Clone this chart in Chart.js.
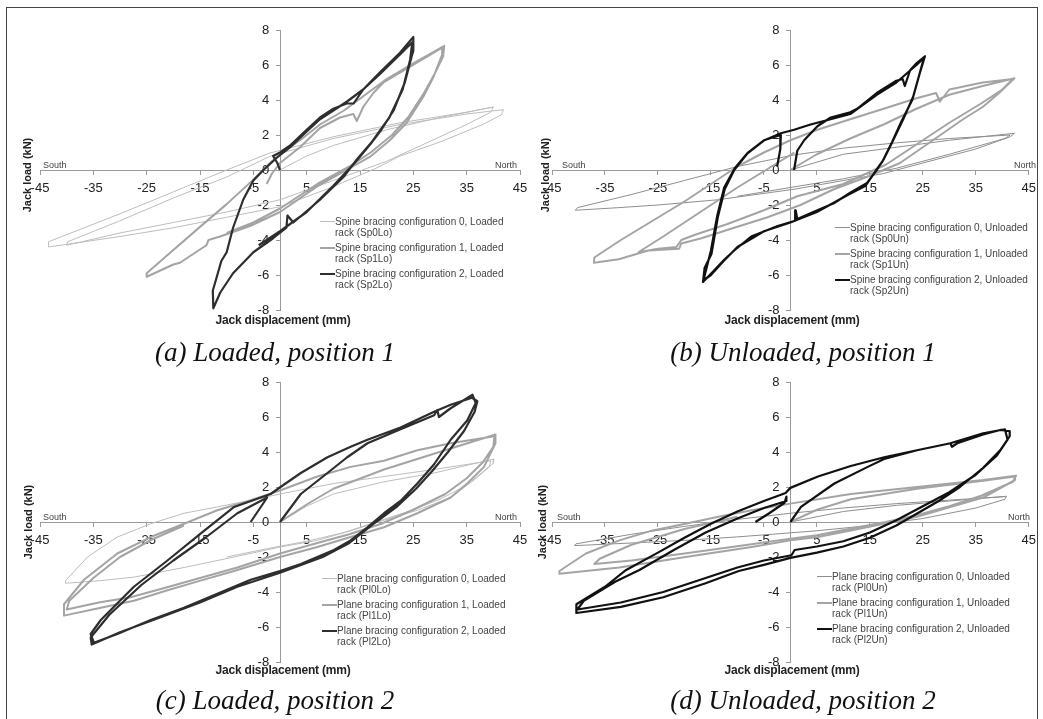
<!DOCTYPE html>
<html>
<head>
<meta charset="utf-8">
<script src="https://cdn.jsdelivr.net/npm/chart.js@4.4.1/dist/chart.umd.min.js"></script>
<style>
  body { margin: 0; background: #fff; width: 1043px; height: 719px; overflow: hidden; position: relative;
         font-family: "Liberation Sans", Arial, sans-serif; }
  #frame { position: absolute; left: 6px; top: 7px; width: 1030px; height: 730px; border: 1px solid #444; }
  canvas { position: absolute; }
  .ytitle { position: absolute; font-weight: bold; font-size: 11px; color: #222; white-space: nowrap;
            transform: translate(-50%, -50%) rotate(-90deg); }
  .xtitle { position: absolute; font-weight: bold; font-size: 12px; color: #222; white-space: nowrap;
            transform: translate(-50%, -50%); letter-spacing: -0.2px; }
  .caption { position: absolute; font-family: "Liberation Serif", "Times New Roman", serif; font-style: italic;
             font-size: 27px; color: #111; white-space: nowrap; transform: translate(-50%, -50%); }
  .dir { position: absolute; font-size: 9px; color: #444; }
  .legend { position: absolute; font-size: 10px; color: #444; line-height: 11px; }
  .legend .row { display: flex; margin-bottom: 4px; }
  .legend .swatch { width: 15px; height: 0; margin-top: 5px; flex: none; }
</style>
</head>
<body>
<div id="frame"></div>

<canvas id="chartA" width="540" height="340" style="left:0;top:0"></canvas>
<canvas id="chartB" width="528" height="340" style="left:515px;top:0"></canvas>
<canvas id="chartC" width="540" height="340" style="left:0;top:352px"></canvas>
<canvas id="chartD" width="528" height="340" style="left:515px;top:352px"></canvas>

<div class="ytitle" style="left:27px;top:175px">Jack load (kN)</div>
<div class="ytitle" style="left:545px;top:175px">Jack load (kN)</div>
<div class="ytitle" style="left:28px;top:522px">Jack load (kN)</div>
<div class="ytitle" style="left:542px;top:522px">Jack load (kN)</div>

<div class="xtitle" style="left:283px;top:320px">Jack displacement (mm)</div>
<div class="xtitle" style="left:792px;top:320px">Jack displacement (mm)</div>
<div class="xtitle" style="left:283px;top:670px">Jack displacement (mm)</div>
<div class="xtitle" style="left:792px;top:670px">Jack displacement (mm)</div>

<div class="caption" style="left:275px;top:352px">(a) Loaded, position 1</div>
<div class="caption" style="left:803px;top:352px">(b) Unloaded, position 1</div>
<div class="caption" style="left:275px;top:700px">(c) Loaded, position 2</div>
<div class="caption" style="left:803px;top:700px">(d) Unloaded, position 2</div>

<div class="dir" style="left:43px;top:160px">South</div>
<div class="dir" style="left:495px;top:160px">North</div>
<div class="dir" style="left:562px;top:160px">South</div>
<div class="dir" style="left:1014px;top:160px">North</div>
<div class="dir" style="left:43px;top:512px">South</div>
<div class="dir" style="left:495px;top:512px">North</div>
<div class="dir" style="left:557px;top:512px">South</div>
<div class="dir" style="left:1008px;top:512px">North</div>

<div class="legend" id="legA" style="left:320px;top:216px"></div>
<div class="legend" id="legB" style="left:835px;top:222px"></div>
<div class="legend" id="legC" style="left:322px;top:573px"></div>
<div class="legend" id="legD" style="left:817px;top:571px"></div>

<script>
const xTicks = [-45, -35, -25, -15, -5, 5, 15, 25, 35, 45];
const yTicks = [-8, -6, -4, -2, 0, 2, 4, 6, 8];

// (a) loaded, position 1 - spine bracing
const sp0Lo = [[0,0],[5,0.8],[10,1.4],[20,2.3],[30,3.0],[40,3.6],[39.5,3.3],[35,2.6],[30,1.9],[20,0.5],[10,-0.6],[0,-1.7],[-10,-2.4],[-20,-3.0],[-30,-3.6],[-40,-4.3],[-39.8,-4.1],[-30,-2.9],[-20,-1.6],[-10,-0.4],[-1.9,0.78],[10,1.8],[22.5,2.6],[35,3.2],[41.9,3.45],[41.5,3.15],[38,2.6],[30,1.6],[22.5,0.8],[18,0.1],[10,-0.95],[0,-2.1],[-10,-2.7],[-20,-3.3],[-30,-3.8],[-43.4,-4.4],[-43.4,-4.1],[-30,-2.5],[-20,-1.25],[-10,0],[-1.9,0.97],[10,1.9],[22.5,2.7],[35,3.3],[40,3.6]];
const sp1Lo = [[-2.5,-0.8],[-1.5,-0.2],[0,0.4],[3.75,1.3],[7.5,2.4],[11.25,3.0],[13.75,3.2],[14.4,2.8],[15.6,3.6],[17.5,4.4],[19.4,5.0],[24.4,5.9],[30.5,7.0],[30.4,6.6],[28.75,5.3],[26.9,4.2],[23.75,2.7],[20.6,1.7],[16.9,0.76],[12.5,0],[6.9,-0.95],[0,-2.4],[-5.6,-3.2],[-11.25,-3.8],[-13.4,-4.0],[-13.8,-4.3],[-18.75,-5.3],[-20,-5.4],[-25,-6.1],[-25,-5.9],[-22,-5.1],[-15,-3.25],[-10,-1.95],[-5,-0.55],[-1.9,0.4],[0,0.9],[3.75,1.7],[7.5,2.6],[12,3.4],[16,4.3],[20,5.2],[25,6.1],[30.8,7.1],[30.6,6.5],[29,5.5],[27,4.4],[24,3.0],[21,2.0],[17,1.0],[13,0.2],[7,-0.8],[0,-2.2],[-5,-3.0],[-10,-3.6]];
const sp2Lo = [[0,0],[-0.5,0.4],[-1.3,0.8],[0,1.0],[1.9,1.4],[5,2.3],[7.5,3.0],[10,3.5],[12.5,3.8],[13.8,3.8],[15.6,4.6],[18.8,5.6],[22.5,6.7],[25,7.6],[25,6.8],[24.7,6.5],[23.4,5.0],[21.3,3.4],[19,2.3],[17.5,1.7],[14.4,0.6],[11.9,-0.4],[7.5,-1.7],[2.5,-3.0],[1.4,-2.6],[1.2,-3.3],[-1.3,-3.9],[-5,-4.7],[-8.8,-5.9],[-11.2,-7.0],[-12.5,-7.9],[-12.6,-6.9],[-11,-5.2],[-10,-4.7],[-8.8,-3.3],[-6.9,-1.7],[-5,-0.6],[-3.1,0],[-0.6,0.7],[1.9,1.3],[5,2.2],[7.5,2.9],[10,3.4],[12.5,3.9],[15.6,4.6],[18.8,5.5],[22.5,6.6],[24.8,7.3],[24.4,6.3],[23,4.6],[20.5,3.0],[17,1.5],[14,0.4],[10,-0.9],[5,-2.4],[0,-3.5],[-4,-4.3]];

// (b) unloaded, position 1 - spine bracing
const sp0Un = [[0,0],[10,0.9],[20,1.3],[30,1.7],[42.3,2.1],[41.5,1.9],[35,1.2],[25,0.4],[17.6,-0.2],[10,-0.6],[0.7,-1.1],[-13.7,-1.7],[-25,-2.0],[-32.4,-2.15],[-40.6,-2.3],[-40.2,-2.15],[-30,-1.4],[-20,-0.6],[-10,0.2],[0.7,0.86],[10,1.25],[20,1.55],[30,1.8],[41.5,2.0],[40.5,1.8],[30,0.9],[20,0.1],[10,-0.5],[0,-1.0],[-10,-1.5]];
const sp1Un = [[0,0],[5,0.9],[11.3,1.8],[17.6,2.6],[23.8,3.5],[30,4.3],[36.3,4.8],[42.3,5.24],[39.4,4.4],[36.3,3.6],[32.6,2.9],[26.9,1.7],[20.7,0.4],[14.4,-0.4],[8.2,-1.1],[1.9,-2.0],[-4.3,-2.7],[-10.6,-3.3],[-16.8,-3.9],[-20.6,-4.2],[-21,-4.5],[-26.8,-4.6],[-32.4,-5.1],[-37.1,-5.3],[-37,-5.0],[-32,-4.0],[-26,-2.9],[-20,-1.8],[-14,-0.6],[-10,0.2],[-5,1.0],[0,1.7],[5.1,2.3],[11.3,2.9],[17.6,3.5],[23.8,4.1],[27.5,4.4],[28.2,3.9],[30,4.6],[36.3,5.0],[42,5.2],[40,4.6],[36,3.8],[30,2.7],[24,1.5],[18,0.3],[10,-0.8],[1.3,-1.5],[-5,-2.3],[-12,-3.1],[-18,-3.7],[-20.6,-4.0],[-21.5,-4.4],[-25,-4.5],[-28.7,-4.7],[-24,-3.8],[-18,-2.6],[-10,-1.0],[-3,0.3],[0.75,1.0]];
const sp2Un = [[0.7,0],[1.3,1.1],[2.6,1.7],[5.1,2.5],[7.6,3.0],[11.3,3.3],[12.6,3.5],[16.3,4.4],[20,5.1],[21.2,5.2],[21.6,4.8],[22.6,5.7],[23.8,6.1],[25.4,6.5],[24.4,5.5],[23.2,4.2],[21.3,2.9],[19.4,1.7],[17.6,0.6],[16.3,0],[14.4,-0.76],[11.3,-1.3],[8.2,-1.9],[5.1,-2.3],[1.3,-2.8],[1,-2.3],[0.9,-2.9],[-2.4,-3.2],[-7.4,-3.8],[-10.6,-4.6],[-12.4,-5.1],[-14.9,-5.9],[-16.5,-6.4],[-16.2,-5.6],[-14.9,-4.8],[-13.7,-2.7],[-12.4,-1.1],[-10.6,0],[-8.1,0.95],[-4.9,1.7],[-1.8,2.1],[0.7,2.3],[3.8,2.6],[7.6,2.9],[11.3,3.2],[16.3,4.3],[20,5.0],[23.8,6.0],[25.2,6.4],[24.2,5.3],[23,4.0],[21,2.8],[19.2,1.6],[17.4,0.5],[16,-0.1],[14.2,-0.9],[11,-1.4],[5,-2.4],[0,-3.0],[-5,-3.5],[-10,-4.4],[-12.6,-5.2],[-15,-6.0],[-16.4,-6.3],[-15,-4.6],[-13.8,-2.6],[-12.5,-1.0],[-10.5,0.1],[-8,1.0],[-5,1.7],[-1.8,2.0],[-1.9,1.2],[-2.5,0.2]];

// (c) loaded, position 2 - plane bracing
const pl0Lo = [[0,0],[5,0.9],[10,1.6],[19.5,2.3],[28.9,2.8],[40.1,3.6],[40,3.35],[36.4,2.4],[32,1.4],[25.75,0.67],[19.5,0.1],[13.25,-0.5],[7,-1.05],[0,-1.43],[-8.6,-2.0],[-18,-2.6],[-27.4,-3.15],[-33.6,-3.35],[-40.2,-3.5],[-40.2,-3.35],[-36.1,-2.0],[-30.5,-0.86],[-24.25,-0.1],[-18,0.5],[-11.75,0.86],[-5.5,1.24],[0,1.6],[10.1,2.2],[19.5,2.6],[28.9,3.0],[39.5,3.5],[39.3,3.2],[35,2.1],[30,1.3],[24,0.6],[18,0.0],[12,-0.6],[5,-1.1],[-2,-1.5],[-10,-2.0]];
const pl1Lo = [[0,0],[5,1.0],[10,1.9],[19.5,3.0],[25.75,3.6],[32,4.2],[40.4,5.0],[40.4,4.5],[38.25,3.15],[35.1,2.2],[32,1.4],[25.75,0.5],[19.5,-0.3],[13.25,-0.86],[7,-1.43],[0,-2.0],[-8.6,-2.8],[-14.9,-3.35],[-21.1,-3.9],[-27.4,-4.5],[-33.6,-4.9],[-40.5,-5.35],[-40.5,-4.7],[-36.75,-3.3],[-30.5,-1.8],[-24.25,-0.86],[-18,-0.1],[-11.75,0.67],[-5.5,1.24],[0,1.8],[7,2.6],[13.25,3.15],[19.5,3.5],[25.75,4.1],[32,4.5],[40.2,4.9],[40,4.3],[38,3.4],[35,2.5],[31,1.6],[25,0.7],[19,-0.1],[13,-0.7],[7,-1.2],[0,-1.8],[-8,-2.6],[-15,-3.2],[-22,-3.8],[-28,-4.3],[-34,-4.6],[-40,-5.0],[-39.5,-4.5],[-35,-3.2],[-30,-2.0],[-24,-1.0],[-18,-0.2]];
const pl2Lo = [[0,0],[3.9,1.6],[8.9,2.8],[12.6,3.7],[16.4,4.5],[22.6,5.3],[28.9,6.1],[29.5,6.4],[29.8,6.0],[32,6.5],[36.1,7.27],[36.7,6.8],[35.1,5.8],[32,4.7],[28.9,3.3],[25.75,2.2],[22.6,1.2],[19.5,0.5],[16.4,-0.3],[13.25,-1.05],[10.1,-1.6],[3.9,-2.4],[0,-2.8],[-5.5,-3.3],[-11.75,-4.1],[-18,-4.9],[-24.25,-5.6],[-30.5,-6.4],[-34.9,-6.9],[-35.5,-6.4],[-33.6,-5.6],[-27.4,-3.7],[-21.1,-2.2],[-14.9,-0.67],[-8.6,0.86],[-3.6,1.4],[-1.75,1.6],[0.1,2.0],[3.9,2.8],[8.9,3.7],[13.25,4.3],[16.4,4.7],[22.6,5.4],[28.9,6.3],[32,6.7],[36,7.1],[37,6.9],[36.5,6.3],[34.5,5.2],[31.5,4.0],[28.5,2.9],[25.5,1.9],[22,0.9],[18,0.0],[13,-1.2],[8,-2.0],[0,-2.9],[-8,-3.7],[-15,-4.6],[-22,-5.4],[-30,-6.3],[-35.3,-7.0],[-35.5,-6.6],[-32,-5.3],[-26,-3.6],[-20,-2.2],[-14,-0.9],[-8,0.5],[-2.4,1.4],[-5.5,0]];

// (d) unloaded, position 2 - plane bracing
const pl0Un = [[0,0],[10,0.6],[20,0.95],[30,1.2],[40.8,1.47],[40.5,1.3],[35,0.8],[25,0.2],[15,-0.2],[5,-0.5],[0,-0.62],[-10,-0.85],[-20,-1.05],[-30,-1.2],[-40.75,-1.35],[-40.5,-1.25],[-30,-0.7],[-20,-0.25],[-10,0.15],[0,0.5],[10,0.8],[20,1.05],[30,1.25],[40.5,1.45]];
const pl1Un = [[0,0],[5,0.7],[11.4,1.3],[23.9,1.9],[36.4,2.35],[42.4,2.6],[42.4,2.4],[36.4,1.4],[30.2,0.86],[23.9,0.3],[17.7,-0.1],[11.4,-0.48],[5.2,-0.86],[0,-1.05],[-7.3,-1.43],[-19.8,-2.0],[-32.3,-2.6],[-43.6,-2.96],[-43.6,-2.8],[-38.6,-1.8],[-32.3,-1.05],[-26,-0.48],[-19.8,-0.1],[-13.6,0.3],[-7.3,0.67],[0,1.05],[11.4,1.6],[23.9,2.0],[36.4,2.4],[42.6,2.65],[42,2.3],[36,1.5],[30,0.9],[24,0.4],[18,0],[11,-0.4],[5,-0.75],[0,-0.95],[-8,-1.3],[-20,-1.8],[-30,-2.2],[-37,-2.4],[-36,-2.1],[-30,-1.3],[-20,-0.4],[-10,0.3]];
const pl2Un = [[0,0],[2,0.86],[8.3,2.2],[14.6,3.15],[17.7,3.6],[23.9,4.1],[30.2,4.5],[30.5,4.3],[31.5,4.5],[36.4,5.0],[39.6,5.26],[41.4,5.2],[41.4,4.9],[39.6,4.1],[36.4,3.1],[32,2.0],[28,1.2],[24,0.5],[20,-0.2],[15,-0.9],[10,-1.4],[5,-1.75],[0,-2.05],[-5,-2.45],[-9.75,-2.8],[-16,-3.5],[-24,-4.3],[-32,-4.85],[-40.4,-5.2],[-40.4,-4.7],[-35,-3.7],[-31,-2.74],[-25,-1.75],[-20,-0.9],[-15,-0.1],[-10,0.6],[-5,1.2],[-0.9,1.66],[0,1.95],[5.2,2.6],[11.4,3.2],[17.7,3.7],[23.9,4.1],[30.2,4.5],[36.4,5.07],[40.5,5.3],[41,4.7],[39,3.8],[35,2.7],[30,1.7],[25,0.9],[20,0.1],[15,-0.6],[10,-1.1],[5,-1.4],[0.8,-1.6],[0.2,-1.9],[-5,-2.2],[-10,-2.6],[-16,-3.2],[-24,-4.0],[-32,-4.6],[-40.2,-5.0],[-39,-4.5],[-33,-3.4],[-28.5,-2.74],[-22,-1.6],[-16,-0.6],[-10,0.2],[-5,0.8],[-0.75,1.2],[-0.75,1.45],[-1.1,1.1],[-4,0.5],[-6.6,0]];

const legendA = ['Spine bracing configuration 0, Loaded', 'rack (Sp0Lo)', 'Spine bracing configuration 1, Loaded', 'rack (Sp1Lo)', 'Spine bracing configuration 2, Loaded', 'rack (Sp2Lo)'];
const legendB = ['Spine bracing configuration 0, Unloaded', 'rack (Sp0Un)', 'Spine bracing configuration 1, Unloaded', 'rack (Sp1Un)', 'Spine bracing configuration 2, Unloaded', 'rack (Sp2Un)'];
const legendC = ['Plane bracing configuration 0, Loaded', 'rack (Pl0Lo)', 'Plane bracing configuration 1, Loaded', 'rack (Pl1Lo)', 'Plane bracing configuration 2, Loaded', 'rack (Pl2Lo)'];
const legendD = ['Plane bracing configuration 0, Unloaded', 'rack (Pl0Un)', 'Plane bracing configuration 1, Unloaded', 'rack (Pl1Un)', 'Plane bracing configuration 2, Unloaded', 'rack (Pl2Un)'];

function lineStyles(zeroColor, darkColor) {
  return [
    { color: zeroColor, width: 1 },
    { color: '#a4a4a4', width: 2 },
    { color: darkColor, width: 2.2 }
  ];
}

function makePanel(id, series, styles, pad) {
  const axisColor = '#9a9a9a';
  const tickFont = { family: 'Liberation Sans', size: 13 };
  new Chart(document.getElementById(id), {
    type: 'scatter',
    data: {
      datasets: series.map((pts, i) => ({
        data: pts.map(p => ({ x: p[0], y: p[1] })),
        showLine: true,
        borderColor: styles[i].color,
        borderWidth: styles[i].width,
        borderJoinStyle: 'round',
        pointRadius: 0,
        tension: 0,
        order: 2 - i
      }))
    },
    options: {
      responsive: false,
      animation: false,
      events: [],
      layout: { padding: pad },
      plugins: { legend: { display: false }, tooltip: { enabled: false } },
      scales: {
        x: {
          type: 'linear', min: -45, max: 45,
          position: { y: 0 },
          afterFit: s => { s.height = 0; },
          afterBuildTicks: s => { s.ticks = xTicks.map(v => ({ value: v })); },
          border: { color: axisColor, width: 1 },
          grid: { drawOnChartArea: false, tickLength: 4, color: axisColor },
          ticks: { color: '#222', font: tickFont, padding: 7, maxRotation: 0, autoSkip: false }
        },
        y: {
          type: 'linear', min: -8, max: 8,
          position: { x: 0 },
          afterFit: s => { s.width = 0; },
          afterBuildTicks: s => { s.ticks = yTicks.map(v => ({ value: v })); },
          border: { color: axisColor, width: 1 },
          grid: { drawOnChartArea: false, tickLength: 4, color: axisColor },
          // centred axes get no label gap, so pad the label text itself
          ticks: { color: '#222', font: tickFont, autoSkip: false, callback: v => v + '   ' }
        }
      }
    }
  });
}

function makeLegend(id, labels, styles) {
  const box = document.getElementById(id);
  styles.forEach((st, i) => {
    const row = document.createElement('div');
    row.className = 'row';
    const sw = document.createElement('div');
    sw.className = 'swatch';
    sw.style.borderTop = st.width + 'px solid ' + st.color;
    const txt = document.createElement('div');
    txt.innerHTML = labels[2 * i] + '<br>' + labels[2 * i + 1];
    row.appendChild(sw);
    row.appendChild(txt);
    box.appendChild(row);
  });
}

const stylesLo = lineStyles('#bdbdbd', '#2e2e2e');
const stylesUn = lineStyles('#8e8e8e', '#111111');

makePanel('chartA', [sp0Lo, sp1Lo, sp2Lo], stylesLo, { left: 40, right: 20, top: 30, bottom: 30 });
makePanel('chartB', [sp0Un, sp1Un, sp2Un], stylesUn, { left: 37, right: 11, top: 30, bottom: 30 });
makePanel('chartC', [pl0Lo, pl1Lo, pl2Lo], stylesLo, { left: 40, right: 20, top: 30, bottom: 30 });
makePanel('chartD', [pl0Un, pl1Un, pl2Un], stylesUn, { left: 37, right: 11, top: 30, bottom: 30 });

makeLegend('legA', legendA, stylesLo);
makeLegend('legB', legendB, stylesUn);
makeLegend('legC', legendC, stylesLo);
makeLegend('legD', legendD, stylesUn);
</script>
</body>
</html>
